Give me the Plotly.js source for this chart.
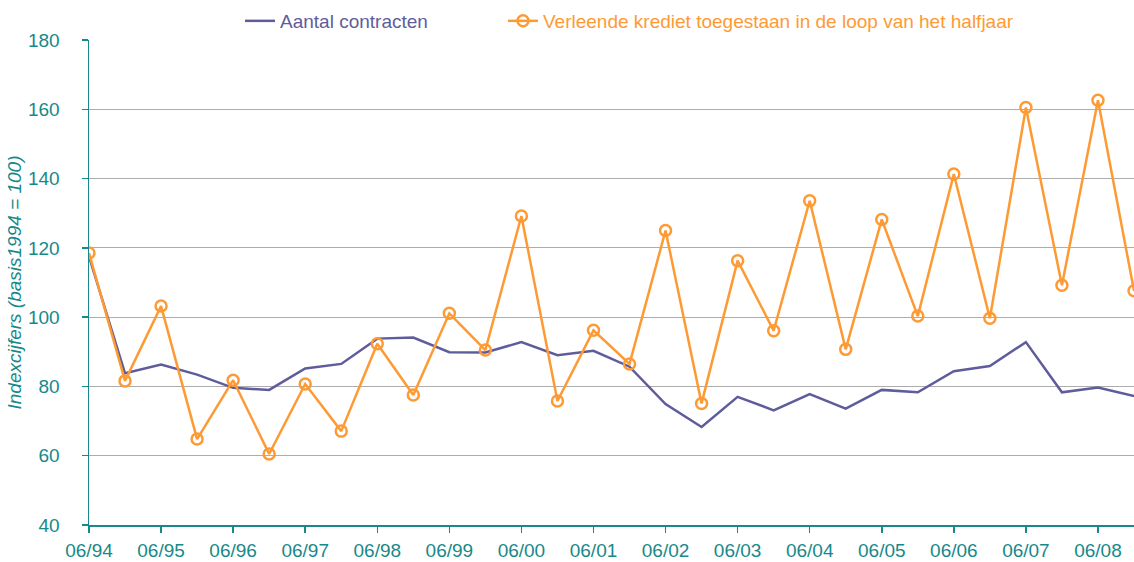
<!DOCTYPE html>
<html>
<head>
<meta charset="utf-8">
<script src="https://cdn.plot.ly/plotly-3.0.1.min.js"></script>
<style>
  html, body { margin: 0; padding: 0; background: #ffffff; }
  #chart { width: 1134px; height: 562px; }
</style>
</head>
<body>
<div id="chart"></div>
<script>
// Half-year periods, 06/94 .. 12/08
const periods = ["06/94","12/94","06/95","12/95","06/96","12/96","06/97","12/97","06/98","12/98",
                 "06/99","12/99","06/00","12/00","06/01","12/01","06/02","12/02","06/03","12/03",
                 "06/04","12/04","06/05","12/05","06/06","12/06","06/07","12/07","06/08","12/08"];

const aantalContracten = [117.5, 83.8, 86.3, 83.4, 79.6, 79.0, 85.2, 86.5, 93.8, 94.1,
                          89.9, 89.8, 92.8, 89.0, 90.3, 85.7, 74.9, 68.3, 77.0, 73.1,
                          77.8, 73.6, 79.0, 78.3, 84.4, 85.9, 92.8, 78.3, 79.7, 77.2];

const verleendeKrediet = [118.5, 81.6, 103.2, 64.8, 81.8, 60.5, 80.7, 67.1, 92.3, 77.5,
                          101.1, 90.5, 129.2, 75.8, 96.2, 86.5, 125.0, 75.1, 116.3, 96.1,
                          133.6, 90.7, 128.2, 100.3, 141.3, 99.7, 160.5, 109.2, 162.6, 107.6];

const seriesNames = ["Aantal contracten", "Verleende krediet toegestaan in de loop van het halfjaar"];
const yTitle = "Indexcijfers (basis1994 = 100)";

const xIdx = periods.map((p, i) => i);
const tickVals = xIdx.filter(i => periods[i].startsWith("06/"));
const tickText = tickVals.map(i => periods[i]);

const teal = "#17898a";
const purple = "#5f5c9c";
const orange = "#fe9a34";
const font = "Liberation Sans, Arial, sans-serif";

const traces = [
  {
    x: xIdx, y: aantalContracten, name: seriesNames[0], type: "scatter", mode: "lines",
    line: { color: purple, width: 2.5 }, legend: "legend"
  },
  {
    x: xIdx, y: verleendeKrediet, name: seriesNames[1], type: "scatter", mode: "lines+markers",
    line: { color: orange, width: 2.5 },
    marker: { symbol: "circle-open", size: 11, color: orange, line: { width: 2.5, color: orange } },
    legend: "legend2"
  }
];

const layout = {
  width: 1134, height: 562,
  margin: { l: 89, r: 0, t: 40, b: 37, pad: 0 },
  paper_bgcolor: "#ffffff", plot_bgcolor: "#ffffff",
  font: { family: font, size: 19, color: teal },
  showlegend: true,
  legend: {
    orientation: "h", x: (240 - 89) / 1045, xanchor: "left", y: 1.0, yanchor: "bottom",
    bgcolor: "rgba(0,0,0,0)", font: { family: font, size: 19, color: purple },
    borderwidth: 0
  },
  legend2: {
    orientation: "h", x: (503 - 89) / 1045, xanchor: "left", y: 1.0, yanchor: "bottom",
    bgcolor: "rgba(0,0,0,0)", font: { family: font, size: 19, color: orange },
    borderwidth: 0
  },
  xaxis: {
    range: [0, 29], tickmode: "array", tickvals: tickVals, ticktext: tickText,
    showgrid: false, zeroline: false,
    showline: true, linecolor: teal, linewidth: 1.5,
    ticks: "outside", ticklen: 6, tickcolor: teal, tickwidth: 1.5,
    tickfont: { family: font, size: 19, color: teal },
    ticklabelstandoff: 2,
    fixedrange: true
  },
  yaxis: {
    range: [40, 180], dtick: 20, tick0: 40,
    showgrid: true, gridcolor: "#adadad", gridwidth: 1, zeroline: false,
    showline: true, linecolor: teal, linewidth: 1.5,
    ticks: "outside", ticklen: 6, tickcolor: teal, tickwidth: 1.5,
    tickfont: { family: font, size: 19, color: teal },
    ticklabelstandoff: 18,
    title: { text: yTitle, font: { family: font, size: 19, color: teal }, standoff: 1 },
    fixedrange: true
  },
  shapes: [
    { type: "rect", xref: "paper", yref: "paper", x0: (198 - 89) / 1045, x1: (1057 - 89) / 1045,
      y0: 0.99, y1: 1.02, fillcolor: "#ffffff", line: { width: 0 }, layer: "above" }
  ]
};

Plotly.newPlot("chart", traces, layout, { displayModeBar: false, staticPlot: true }).then(() => {
  // italic axis title
  document.querySelectorAll(".ytitle").forEach(el => el.style.fontStyle = "italic");
});
</script>
</body>
</html>
